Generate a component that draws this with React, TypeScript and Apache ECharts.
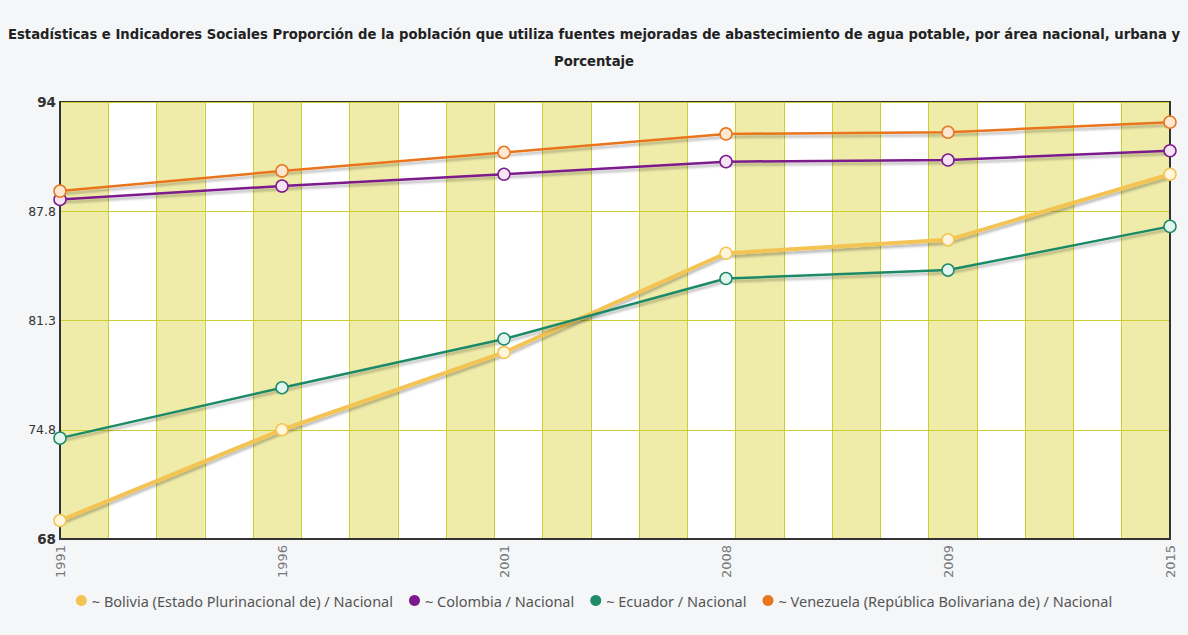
import React, { useEffect, useRef } from "react";
import * as echarts from "echarts";

const years = ["1991", "1996", "2001", "2008", "2009", "2015"];
const bolivia = [69.1, 74.5, 79.1, 85.0, 85.8, 89.7];
const colombia = [88.2, 89.0, 89.7, 90.45, 90.55, 91.1];
const ecuador = [74.0, 77.0, 79.9, 83.5, 84.0, 86.6];
const venezuela = [88.7, 89.9, 91.0, 92.1, 92.2, 92.8];
const yTickLabels = ["68", "74.8", "81.3", "87.8", "94"];
const seriesNames = [
  "~ Bolivia (Estado Plurinacional de) / Nacional",
  "~ Colombia / Nacional",
  "~ Ecuador / Nacional",
  "~ Venezuela (República Bolivariana de) / Nacional",
];
const seriesData = [bolivia, colombia, ecuador, venezuela];
const seriesColors = ["#f3c453", "#7b1a8c", "#1f8a67", "#e8751f"];
const markerFills = ["#fff6dc", "#f6e4f6", "#e2f6ee", "#fde8d2"];
const lineWidths = [4, 2.5, 2.5, 2.5];
const title =
  "Estadísticas e Indicadores Sociales Proporción de la población que utiliza fuentes mejoradas de abastecimiento de agua potable, por área nacional, urbana y\nPorcentaje";

const frameLine = { show: true, onZero: false, lineStyle: { color: "#333", width: 2 } };

export default function App() {
  const ref = useRef<HTMLDivElement>(null);
  useEffect(() => {
    if (!ref.current) return;
    const chart = echarts.init(ref.current, null, { renderer: "svg" });
    chart.setOption({
      animation: false,
      backgroundColor: "#f4f6f8",
      title: {
        text: title,
        left: "center",
        top: 16,
        textStyle: {
          fontFamily: "DejaVu Sans",
          fontWeight: "bold",
          fontSize: 13.2,
          color: "#222",
          lineHeight: 27,
        },
      },
      legend: {
        bottom: 22,
        left: "center",
        icon: "circle",
        itemWidth: 11,
        itemHeight: 11,
        itemGap: 16,
        textStyle: { fontFamily: "Noto Sans", fontSize: 14.5, color: "#555" },
        data: seriesNames.map((name, i) => ({
          name,
          itemStyle: { color: seriesColors[i], borderWidth: 0 },
        })),
      },
      grid: {
        left: 60,
        right: 18,
        top: 102,
        bottom: 96,
      },
      xAxis: [
        {
          type: "category",
          data: years,
          boundaryGap: false,
          axisLine: frameLine,
          axisTick: { show: false },
          splitLine: { show: false },
          z: 5,
          axisLabel: {
            rotate: 90,
            fontFamily: "DejaVu Sans",
            fontSize: 13,
            color: "#777",
            margin: 6,
          },
        },
        {
          type: "value",
          min: 0,
          max: 23,
          interval: 1,
          position: "top",
          z: 0,
          axisLine: frameLine,
          axisTick: { show: false },
          axisLabel: { show: false },
          splitLine: { show: true, lineStyle: { color: "#cccc33", width: 1 } },
          splitArea: { show: true, areaStyle: { color: ["#efeba9", "#ffffff"] } },
        },
      ],
      yAxis: [
        {
          type: "value",
          min: 68,
          max: 94,
          position: "right",
          z: 5,
          axisLine: frameLine,
          axisTick: { show: false },
          axisLabel: { show: false },
          splitLine: { show: false },
        },
        {
          type: "value",
          min: 0,
          max: 4,
          interval: 1,
          position: "left",
          z: 4,
          axisLine: frameLine,
          axisTick: { show: false },
          splitLine: { show: true, lineStyle: { color: "#cccc33", width: 1 } },
          axisLabel: {
            margin: 4,
            fontFamily: "DejaVu Sans",
            fontSize: 12.5,
            color: "#333",
            formatter: (v: number) => {
              const i = Math.round(v);
              const t = yTickLabels[i];
              return i === 0 || i === 4 ? "{b|" + t + "}" : t;
            },
            rich: {
              b: { fontFamily: "DejaVu Sans", fontSize: 13.5, fontWeight: "bold", color: "#333" },
            },
          },
        },
      ],
      series: seriesNames.map((name, i) => ({
        name,
        type: "line",
        xAxisIndex: 0,
        yAxisIndex: 0,
        data: seriesData[i],
        symbol: "circle",
        symbolSize: 12,
        color: seriesColors[i],
        z: 10 + i,
        lineStyle: {
          color: seriesColors[i],
          width: lineWidths[i],
          shadowColor: "rgba(0,0,0,0.25)",
          shadowBlur: 2,
          shadowOffsetY: 3,
        },
        itemStyle: {
          color: markerFills[i],
          borderColor: seriesColors[i],
          borderWidth: 1.5,
        },
      })),
    });
    return () => chart.dispose();
  }, []);
  return (
    <div
      ref={ref}
      style={{ position: "fixed", left: 0, top: 0, width: 1188, height: 635 }}
    />
  );
}
